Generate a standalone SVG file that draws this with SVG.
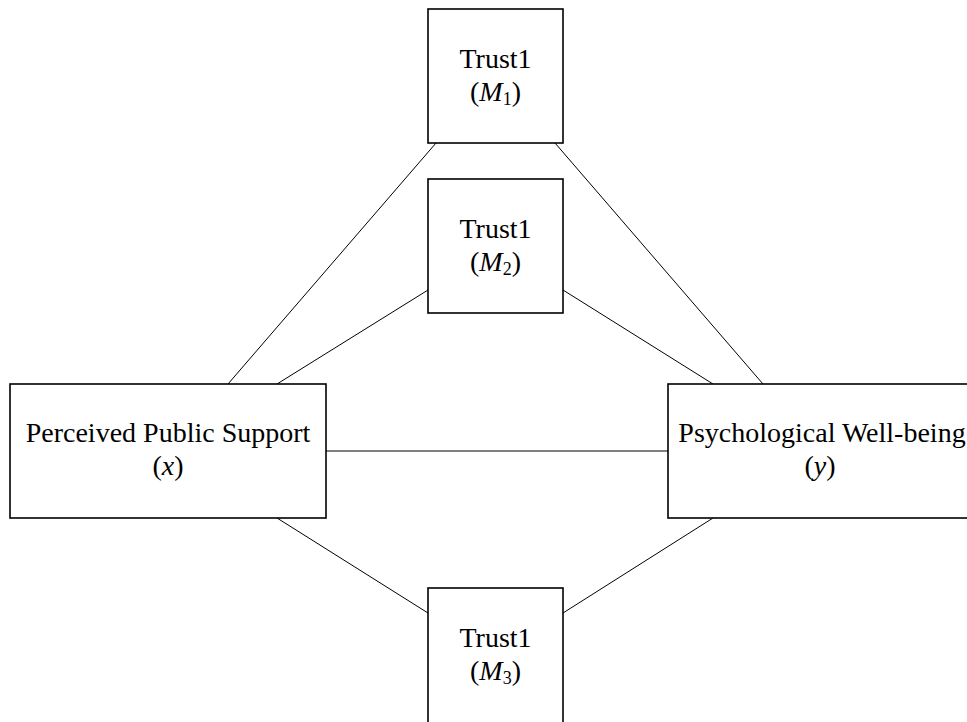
<svg xmlns="http://www.w3.org/2000/svg" width="967" height="722" viewBox="0 0 967 722">
<style>
.box{fill:#fff;stroke:#000;stroke-width:1.6}
.edge{stroke:#000;stroke-width:1;fill:none}
.lbl{font-size:28px;fill:#000;text-anchor:middle}
.it{font-style:italic}
.sub{font-size:18px}
</style>
<rect width="967" height="722" fill="#fff"/>
<g id="connectors">
<line class="edge" x1="436" y1="143" x2="228" y2="384"/>
<line class="edge" x1="555" y1="143" x2="763" y2="384"/>
<line class="edge" x1="428" y1="290" x2="277" y2="384"/>
<line class="edge" x1="563" y1="290" x2="713" y2="384"/>
<line class="edge" x1="326" y1="451" x2="668" y2="451"/>
<line class="edge" x1="277" y1="518" x2="428" y2="613"/>
<line class="edge" x1="713" y1="518" x2="563" y2="613"/>
</g>
<g font-family="Liberation Serif, Times New Roman, DejaVu Serif, Noto Serif, serif">
<g id="m1">
<rect class="box" x="428" y="9" width="135" height="134"/>
<text class="lbl" x="495.5" y="68">Trust1</text>
<text class="lbl" x="495.5" y="101">(<tspan class="it">M</tspan><tspan class="sub" dy="4">1</tspan><tspan dy="-4">)</tspan></text>
</g>
<g id="m2">
<rect class="box" x="428" y="179" width="135" height="134"/>
<text class="lbl" x="495.5" y="238">Trust1</text>
<text class="lbl" x="495.5" y="271">(<tspan class="it">M</tspan><tspan class="sub" dy="4">2</tspan><tspan dy="-4">)</tspan></text>
</g>
<g id="m3">
<rect class="box" x="428" y="588" width="135" height="140"/>
<text class="lbl" x="495.5" y="647">Trust1</text>
<text class="lbl" x="495.5" y="680">(<tspan class="it">M</tspan><tspan class="sub" dy="4">3</tspan><tspan dy="-4">)</tspan></text>
</g>
<g id="x">
<rect class="box" x="10" y="384" width="316" height="134"/>
<text class="lbl" x="168" y="442">Perceived Public Support</text>
<text class="lbl" x="168" y="475">(<tspan class="it">x</tspan>)</text>
</g>
<g id="y">
<rect class="box" x="668" y="384" width="308" height="134"/>
<text class="lbl" x="822" y="442">Psychological Well-being</text>
<text class="lbl" x="820" y="475">(<tspan class="it">y</tspan>)</text>
</g>
</g>
</svg>
